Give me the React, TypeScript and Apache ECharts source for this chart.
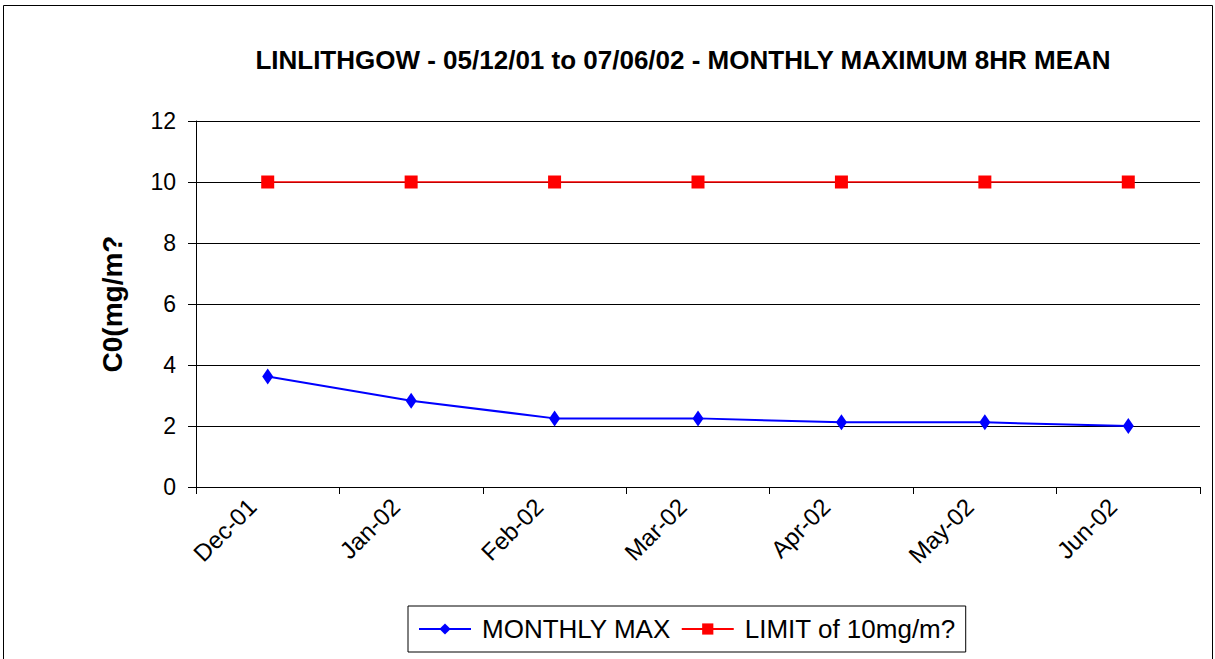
import React, { useEffect, useRef } from "react";
import * as echarts from "echarts";

const categories = ["Dec-01", "Jan-02", "Feb-02", "Mar-02", "Apr-02", "May-02", "Jun-02"];
const monthlyMax = [3.62, 2.83, 2.25, 2.25, 2.12, 2.12, 2.0];
const limit = [10, 10, 10, 10, 10, 10, 10];

export default function App() {
  const ref = useRef<HTMLDivElement>(null);
  useEffect(() => {
    document.body.style.margin = "0";
    const chart = echarts.init(ref.current!, null, { renderer: "svg" });
    const font = "Arial, 'Liberation Sans', sans-serif";
    chart.setOption({
      animation: false,
      backgroundColor: "#fff",
      textStyle: { fontFamily: font },
      title: {
        text: "LINLITHGOW - 05/12/01 to 07/06/02 - MONTHLY MAXIMUM 8HR MEAN",
        left: 678,
        textAlign: "center",
        top: 42,
        textStyle: { fontSize: 26, fontWeight: "bold", color: "#000", fontFamily: font },
      },
      graphic: [
        {
          type: "rect",
          shape: { x: 3.5, y: 5.5, width: 1209, height: 670 },
          style: { fill: "none", stroke: "#000", lineWidth: 1 },
          silent: true,
        },
      ],
      legend: {
        left: 408,
        top: 606,
        itemWidth: 52,
        itemHeight: 14,
        itemGap: 10,
        padding: [10, 10, 10, 10],
        borderColor: "#000",
        borderWidth: 1,
        textStyle: { fontSize: 26, color: "#000", fontFamily: font, padding: [0, 0, 0, 6] },
        data: ["MONTHLY MAX", "LIMIT of 10mg/m?"],
      },
      grid: { left: 196, right: 15, top: 121, bottom: 172, containLabel: false },
      xAxis: {
        type: "category",
        data: categories,
        boundaryGap: true,
        axisLine: { lineStyle: { color: "#000", width: 1 } },
        axisTick: { show: true, length: 7, lineStyle: { color: "#000" } },
        axisLabel: {
          rotate: 45,
          fontSize: 24,
          color: "#000",
          margin: 0,
          padding: [0, 22, 0, 0],
          fontFamily: font,
        },
      },
      yAxis: {
        type: "value",
        min: 0,
        max: 12,
        interval: 2,
        name: "C0(mg/m?",
        nameLocation: "middle",
        nameGap: 70,
        nameTextStyle: { fontSize: 28, fontWeight: "bold", color: "#000", fontFamily: font },
        axisLine: { show: true, lineStyle: { color: "#000", width: 1 } },
        axisTick: { show: true, length: 8, lineStyle: { color: "#000" } },
        axisLabel: { fontSize: 23, color: "#000", margin: 20, fontFamily: font },
        splitLine: { show: true, lineStyle: { color: "#000", width: 1 } },
      },
      series: [
        {
          name: "MONTHLY MAX",
          type: "line",
          data: monthlyMax,
          symbol: "diamond",
          symbolSize: [11, 16],
          lineStyle: { color: "#0000ff", width: 2 },
          itemStyle: { color: "#0000ff" },
        },
        {
          name: "LIMIT of 10mg/m?",
          type: "line",
          data: limit,
          symbol: "rect",
          symbolSize: 13,
          lineStyle: { color: "#ff0000", width: 1.5 },
          itemStyle: { color: "#ff0000" },
        },
      ],
    });
    return () => chart.dispose();
  }, []);
  return <div ref={ref} style={{ width: 1215, height: 659 }} />;
}
